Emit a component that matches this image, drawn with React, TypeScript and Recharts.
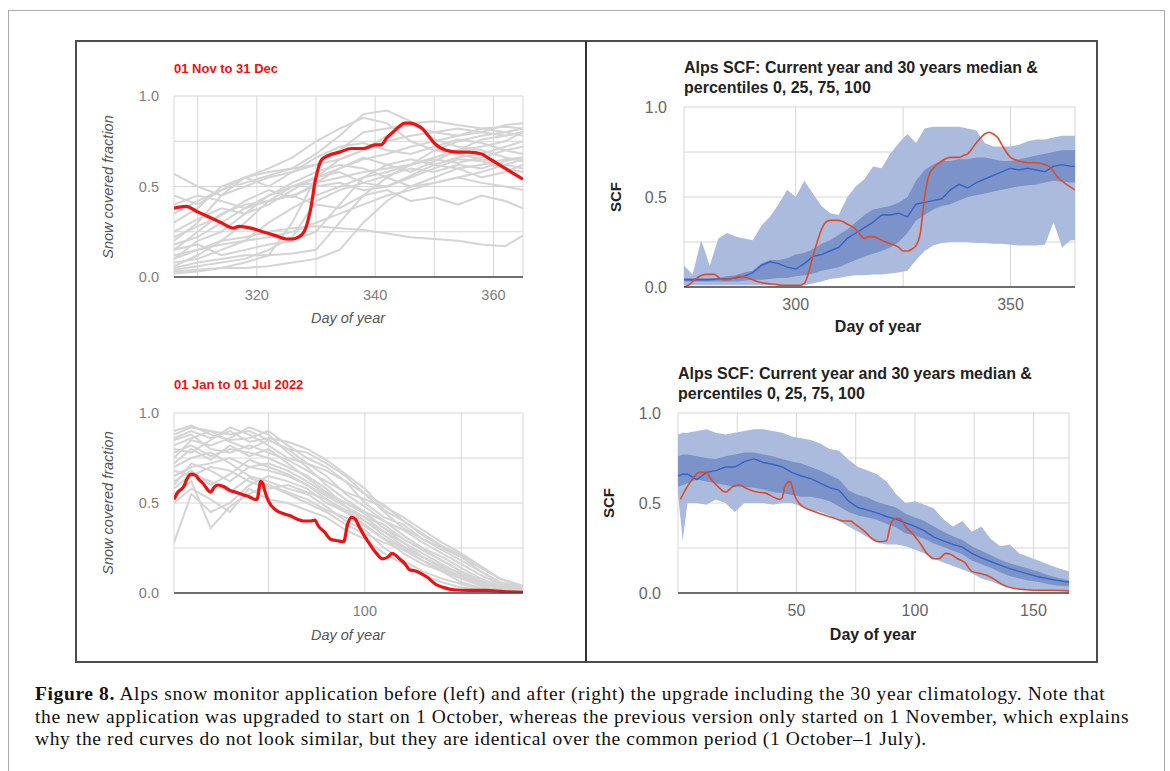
import React from 'react';
import { LineChart, Line, ComposedChart, Area, XAxis, YAxis, CartesianGrid } from 'recharts';

const SANS = 'Arial, "Liberation Sans", sans-serif';
const SERIF = '"Liberation Serif", "DejaVu Serif", serif';

// ---------- left panels (old app): 2022 red line over every past year in grey ----------
const NOV_DEC_2022: [number, number][] = [
  [306, 0.38], [308, 0.39], [310, 0.36], [312, 0.33], [314, 0.3], [316, 0.27], [317, 0.28], [319, 0.27],
  [321, 0.25], [323, 0.23], [325, 0.21], [326, 0.21], [327, 0.22], [328, 0.25], [329, 0.36], [330, 0.55],
  [331, 0.65], [332, 0.67], [334, 0.69], [336, 0.71], [338, 0.71], [340, 0.73], [341, 0.73], [342, 0.77],
  [343, 0.8], [344, 0.83], [345, 0.85], [346, 0.85], [347, 0.84], [348, 0.82], [349, 0.78], [350, 0.74],
  [352, 0.7], [354, 0.69], [356, 0.69], [358, 0.68], [359, 0.66], [360, 0.64], [362, 0.6], [364, 0.56], [365, 0.54],
];

const NOV_DEC_GREY_DAYS = [306, 310, 314, 318, 322, 326, 330, 334, 338, 342, 346, 350, 354, 358, 362, 365];
const NOV_DEC_PAST_YEARS = [
  [0.57, 0.5, 0.45, 0.5, 0.55, 0.58, 0.62, 0.7, 0.8, 0.82, 0.84, 0.8, 0.78, 0.8, 0.84, 0.85],
  [0.05, 0.08, 0.1, 0.12, 0.12, 0.13, 0.15, 0.3, 0.45, 0.55, 0.62, 0.66, 0.7, 0.72, 0.75, 0.8],
  [0.1, 0.15, 0.2, 0.22, 0.25, 0.27, 0.28, 0.27, 0.26, 0.24, 0.22, 0.21, 0.2, 0.18, 0.17, 0.23],
  [0.15, 0.25, 0.35, 0.4, 0.42, 0.45, 0.4, 0.38, 0.45, 0.48, 0.42, 0.44, 0.4, 0.45, 0.42, 0.38],
  [0.03, 0.04, 0.05, 0.08, 0.12, 0.3, 0.55, 0.65, 0.7, 0.75, 0.78, 0.8, 0.82, 0.8, 0.78, 0.8],
  [0.2, 0.3, 0.45, 0.55, 0.6, 0.66, 0.75, 0.82, 0.88, 0.85, 0.75, 0.7, 0.68, 0.65, 0.62, 0.6],
  [0.3, 0.38, 0.5, 0.55, 0.58, 0.6, 0.62, 0.65, 0.7, 0.78, 0.85, 0.86, 0.84, 0.82, 0.83, 0.82],
  [0.1, 0.2, 0.25, 0.35, 0.45, 0.5, 0.52, 0.55, 0.58, 0.6, 0.62, 0.65, 0.63, 0.66, 0.7, 0.72],
  [0.02, 0.03, 0.05, 0.05, 0.06, 0.08, 0.1, 0.15, 0.3, 0.42, 0.5, 0.55, 0.6, 0.62, 0.65, 0.66],
  [0.35, 0.42, 0.48, 0.52, 0.56, 0.6, 0.68, 0.78, 0.9, 0.92, 0.86, 0.76, 0.72, 0.7, 0.66, 0.64],
  [0.18, 0.22, 0.3, 0.38, 0.42, 0.45, 0.5, 0.52, 0.48, 0.5, 0.55, 0.6, 0.65, 0.64, 0.6, 0.58],
  [0.08, 0.1, 0.15, 0.2, 0.3, 0.38, 0.45, 0.5, 0.55, 0.58, 0.62, 0.7, 0.75, 0.78, 0.8, 0.82],
  [0.4, 0.45, 0.42, 0.38, 0.45, 0.52, 0.58, 0.62, 0.6, 0.55, 0.5, 0.52, 0.55, 0.52, 0.5, 0.48],
  [0.12, 0.15, 0.18, 0.2, 0.22, 0.25, 0.3, 0.35, 0.4, 0.45, 0.48, 0.52, 0.55, 0.58, 0.62, 0.65],
  [0.06, 0.12, 0.2, 0.3, 0.42, 0.5, 0.55, 0.6, 0.65, 0.68, 0.72, 0.75, 0.78, 0.82, 0.8, 0.78],
  [0.25, 0.32, 0.38, 0.35, 0.4, 0.48, 0.55, 0.58, 0.52, 0.5, 0.56, 0.62, 0.66, 0.68, 0.72, 0.75],
  [0.45, 0.4, 0.48, 0.55, 0.5, 0.58, 0.66, 0.72, 0.74, 0.7, 0.68, 0.72, 0.76, 0.74, 0.7, 0.68],
  [0.15, 0.18, 0.12, 0.15, 0.18, 0.2, 0.25, 0.4, 0.55, 0.62, 0.65, 0.62, 0.6, 0.55, 0.58, 0.62],
  [0.22, 0.28, 0.34, 0.42, 0.48, 0.44, 0.52, 0.6, 0.66, 0.62, 0.58, 0.64, 0.7, 0.76, 0.78, 0.8],
  [0.04, 0.06, 0.08, 0.1, 0.15, 0.22, 0.42, 0.48, 0.52, 0.56, 0.6, 0.58, 0.62, 0.6, 0.64, 0.66],
];

const JAN_JUL_2022: [number, number][] = [
  [1, 0.52], [3, 0.56], [6, 0.59], [8, 0.64], [10, 0.66], [12, 0.655], [14, 0.63], [16, 0.61], [18, 0.58],
  [20, 0.56], [22, 0.59], [24, 0.6], [27, 0.59], [30, 0.57], [33, 0.56], [37, 0.545], [40, 0.535], [43, 0.52],
  [44, 0.52], [46, 0.62], [47, 0.61], [48, 0.57], [50, 0.51], [54, 0.46], [58, 0.44], [61, 0.43], [65, 0.41],
  [68, 0.4], [72, 0.4], [74, 0.405], [76, 0.37], [79, 0.34], [82, 0.3], [86, 0.29], [89, 0.285], [91, 0.38],
  [93, 0.42], [95, 0.41], [97, 0.37], [99, 0.33], [102, 0.28], [106, 0.22], [109, 0.19], [112, 0.2], [114, 0.22],
  [116, 0.21], [118, 0.19], [121, 0.16], [123, 0.13], [127, 0.12], [132, 0.09], [137, 0.046], [141, 0.03],
  [146, 0.018], [154, 0.015], [163, 0.015], [172, 0.008], [182, 0.004],
];

const JAN_JUL_GREY_DAYS = [1, 10, 20, 30, 40, 50, 60, 70, 80, 90, 100, 110, 120, 130, 140, 150, 160, 170, 182];
const JAN_JUL_PAST_YEARS = [
  [0.88, 0.92, 0.9, 0.88, 0.9, 0.85, 0.8, 0.72, 0.65, 0.55, 0.48, 0.4, 0.32, 0.25, 0.2, 0.14, 0.08, 0.04, 0.01],
  [0.28, 0.55, 0.45, 0.5, 0.6, 0.65, 0.62, 0.58, 0.5, 0.45, 0.38, 0.3, 0.22, 0.16, 0.12, 0.08, 0.05, 0.02, 0.0],
  [0.75, 0.85, 0.82, 0.86, 0.92, 0.88, 0.78, 0.7, 0.6, 0.52, 0.45, 0.4, 0.35, 0.28, 0.22, 0.16, 0.1, 0.05, 0.02],
  [0.65, 0.7, 0.72, 0.75, 0.7, 0.68, 0.65, 0.6, 0.52, 0.45, 0.4, 0.32, 0.25, 0.18, 0.12, 0.06, 0.03, 0.01, 0.0],
  [0.85, 0.88, 0.8, 0.78, 0.82, 0.78, 0.74, 0.68, 0.62, 0.56, 0.52, 0.48, 0.42, 0.35, 0.28, 0.22, 0.15, 0.08, 0.03],
  [0.55, 0.62, 0.36, 0.48, 0.55, 0.6, 0.55, 0.5, 0.45, 0.38, 0.33, 0.28, 0.24, 0.18, 0.13, 0.08, 0.04, 0.02, 0.01],
  [0.8, 0.78, 0.85, 0.92, 0.88, 0.82, 0.75, 0.72, 0.68, 0.62, 0.55, 0.49, 0.4, 0.33, 0.26, 0.2, 0.12, 0.06, 0.02],
  [0.7, 0.75, 0.78, 0.72, 0.65, 0.62, 0.58, 0.55, 0.48, 0.4, 0.35, 0.25, 0.18, 0.12, 0.08, 0.05, 0.02, 0.01, 0.0],
  [0.9, 0.93, 0.88, 0.85, 0.86, 0.9, 0.82, 0.75, 0.7, 0.62, 0.5, 0.42, 0.38, 0.3, 0.24, 0.18, 0.12, 0.06, 0.03],
  [0.6, 0.72, 0.68, 0.62, 0.7, 0.72, 0.68, 0.62, 0.55, 0.5, 0.45, 0.36, 0.28, 0.22, 0.16, 0.1, 0.06, 0.03, 0.01],
  [0.78, 0.82, 0.76, 0.8, 0.78, 0.75, 0.7, 0.65, 0.58, 0.48, 0.42, 0.38, 0.3, 0.24, 0.18, 0.12, 0.07, 0.03, 0.01],
  [0.5, 0.58, 0.52, 0.45, 0.58, 0.52, 0.5, 0.46, 0.42, 0.35, 0.3, 0.22, 0.16, 0.1, 0.06, 0.03, 0.02, 0.01, 0.0],
  [0.82, 0.86, 0.9, 0.84, 0.8, 0.85, 0.8, 0.78, 0.72, 0.65, 0.55, 0.45, 0.36, 0.3, 0.25, 0.2, 0.14, 0.08, 0.04],
  [0.68, 0.65, 0.7, 0.68, 0.62, 0.58, 0.6, 0.56, 0.52, 0.46, 0.42, 0.34, 0.28, 0.2, 0.14, 0.09, 0.05, 0.02, 0.01],
  [0.72, 0.8, 0.74, 0.82, 0.76, 0.8, 0.72, 0.64, 0.56, 0.5, 0.44, 0.36, 0.3, 0.24, 0.18, 0.12, 0.07, 0.04, 0.02],
  [0.62, 0.68, 0.6, 0.66, 0.74, 0.7, 0.66, 0.6, 0.54, 0.48, 0.4, 0.34, 0.26, 0.2, 0.14, 0.09, 0.05, 0.02, 0.01],
  [0.86, 0.9, 0.86, 0.9, 0.84, 0.86, 0.84, 0.8, 0.74, 0.66, 0.58, 0.46, 0.4, 0.32, 0.26, 0.21, 0.15, 0.08, 0.03],
  [0.58, 0.66, 0.62, 0.56, 0.64, 0.6, 0.56, 0.52, 0.46, 0.42, 0.37, 0.3, 0.25, 0.2, 0.15, 0.11, 0.06, 0.03, 0.01],
];

// ---------- right panels (new app): 2022 against 30 year median and percentile bands ----------
const OCT_DEC_DAYS = [
  274, 276, 278, 280, 282, 284, 286, 288, 290, 292, 294, 296, 298, 300, 302, 304, 306, 308, 310, 312, 314, 316, 318, 320,
  322, 324, 326, 328, 330, 332, 334, 336, 338, 340, 342, 344, 346, 348, 350, 352, 354, 356, 358, 360, 362, 364, 365,
];
const OCT_DEC_P0 = [
  0.01, 0.01, 0.01, 0.01, 0.01, 0.01, 0.01, 0.01, 0.01, 0.01, 0.01, 0.01, 0.01, 0.01, 0.01, 0.02, 0.03, 0.045, 0.05, 0.06,
  0.065, 0.065, 0.07, 0.07, 0.075, 0.08, 0.09, 0.15, 0.2, 0.23, 0.245, 0.25, 0.25, 0.25, 0.245, 0.245, 0.24, 0.24, 0.235,
  0.23, 0.23, 0.23, 0.235, 0.36, 0.22, 0.26, 0.26,
];
const OCT_DEC_P25 = [
  0.03, 0.03, 0.03, 0.03, 0.03, 0.03, 0.03, 0.035, 0.04, 0.04, 0.045, 0.05, 0.05, 0.06, 0.065, 0.075, 0.09, 0.1, 0.11, 0.13,
  0.15, 0.17, 0.185, 0.2, 0.22, 0.25, 0.3, 0.37, 0.4, 0.43, 0.45, 0.46, 0.48, 0.5, 0.51, 0.52, 0.53, 0.54, 0.55, 0.56,
  0.565, 0.57, 0.58, 0.59, 0.585, 0.58, 0.58,
];
const OCT_DEC_MEDIAN = [
  0.04, 0.04, 0.04, 0.04, 0.045, 0.045, 0.05, 0.06, 0.08, 0.12, 0.14, 0.13, 0.11, 0.1, 0.13, 0.17, 0.18, 0.2, 0.22, 0.27,
  0.3, 0.33, 0.36, 0.4, 0.4, 0.41, 0.39, 0.46, 0.47, 0.48, 0.49, 0.54, 0.57, 0.55, 0.58, 0.6, 0.62, 0.64, 0.66, 0.65, 0.66,
  0.65, 0.64, 0.67, 0.68, 0.67, 0.67,
];
const OCT_DEC_P75 = [
  0.05, 0.05, 0.05, 0.05, 0.05, 0.06, 0.065, 0.08, 0.09, 0.13, 0.15, 0.15, 0.16, 0.18, 0.19, 0.21, 0.24, 0.26, 0.29, 0.32,
  0.36, 0.4, 0.43, 0.44, 0.45, 0.47, 0.5, 0.59, 0.65, 0.68, 0.7, 0.7, 0.71, 0.71, 0.72, 0.72, 0.71, 0.7, 0.7, 0.71, 0.72,
  0.73, 0.74, 0.75, 0.76, 0.76, 0.76,
];
const OCT_DEC_P100 = [
  0.12, 0.07, 0.26, 0.12, 0.27, 0.3, 0.28, 0.27, 0.26, 0.34, 0.39, 0.46, 0.54, 0.5, 0.59, 0.52, 0.45, 0.41, 0.4, 0.5, 0.56,
  0.6, 0.67, 0.66, 0.74, 0.8, 0.85, 0.8, 0.88, 0.89, 0.89, 0.89, 0.89, 0.88, 0.87, 0.8, 0.78, 0.78, 0.78, 0.79, 0.81, 0.82,
  0.82, 0.83, 0.84, 0.84, 0.84,
];
const OCT_DEC_2022: [number, number][] = [
  [274, 0.0], [275, 0.01], [277, 0.05], [279, 0.07], [281, 0.07], [283, 0.04], [285, 0.045], [287, 0.06], [289, 0.05],
  [291, 0.03], [293, 0.02], [295, 0.015], [297, 0.01], [299, 0.01], [301, 0.01], [302, 0.02], [303, 0.08], [304, 0.17],
  [305, 0.25], [306, 0.32], [307, 0.36], [308, 0.37], [310, 0.37], [312, 0.35], [314, 0.32], [315, 0.29], [316, 0.27],
  [317, 0.28], [318, 0.28], [320, 0.26], [322, 0.24], [324, 0.22], [325, 0.2], [326, 0.2], [327, 0.21], [328, 0.23],
  [329, 0.3], [330, 0.5], [331, 0.62], [332, 0.66], [334, 0.7], [336, 0.72], [338, 0.72], [339, 0.73], [340, 0.74],
  [342, 0.8], [344, 0.85], [345, 0.86], [346, 0.85], [347, 0.83], [348, 0.79], [349, 0.75], [350, 0.72], [352, 0.7],
  [354, 0.69], [356, 0.69], [358, 0.68], [359, 0.67], [361, 0.61], [363, 0.57], [365, 0.54],
];

const JAN_JUN_DAYS = [
  0, 2, 4, 8, 12, 16, 20, 24, 28, 32, 36, 40, 44, 48, 52, 56, 60, 64, 68, 72, 76, 80, 84, 88, 92, 96, 100, 104, 108, 112,
  116, 120, 124, 128, 132, 136, 140, 144, 148, 152, 156, 160, 165,
];
const JAN_JUN_P0 = [
  0.55, 0.29, 0.5, 0.5, 0.49, 0.52, 0.5, 0.45, 0.5, 0.5, 0.5, 0.49, 0.5, 0.5, 0.48, 0.46, 0.45, 0.43, 0.4, 0.37, 0.34,
  0.31, 0.28, 0.27, 0.27, 0.26, 0.24, 0.22, 0.19, 0.17, 0.15, 0.13, 0.11, 0.08, 0.065, 0.045, 0.035, 0.02, 0.015, 0.01,
  0.01, 0.01, 0.01,
];
const JAN_JUN_P25 = [
  0.59, 0.6, 0.61, 0.63, 0.62, 0.61, 0.6, 0.59, 0.59, 0.585, 0.575, 0.56, 0.555, 0.545, 0.535, 0.535, 0.525, 0.51, 0.48,
  0.45, 0.43, 0.42, 0.405, 0.385, 0.365, 0.33, 0.32, 0.3, 0.275, 0.255, 0.235, 0.215, 0.18, 0.16, 0.14, 0.115, 0.095,
  0.08, 0.07, 0.062, 0.05, 0.042, 0.037,
];
const JAN_JUN_MEDIAN = [
  0.65, 0.66, 0.66, 0.63, 0.67, 0.68, 0.7, 0.7, 0.73, 0.745, 0.725, 0.715, 0.7, 0.67, 0.65, 0.635, 0.61, 0.585, 0.57,
  0.51, 0.475, 0.46, 0.445, 0.425, 0.41, 0.39, 0.37, 0.345, 0.31, 0.29, 0.27, 0.255, 0.22, 0.195, 0.175, 0.155, 0.135,
  0.12, 0.105, 0.09, 0.08, 0.07, 0.06,
];
const JAN_JUN_P75 = [
  0.76, 0.77, 0.77, 0.76, 0.75, 0.745, 0.76, 0.77, 0.78, 0.78, 0.77, 0.76, 0.745, 0.73, 0.72, 0.7, 0.68, 0.655, 0.63,
  0.57, 0.545, 0.53, 0.505, 0.49, 0.475, 0.44, 0.42, 0.4, 0.37, 0.34, 0.315, 0.295, 0.26, 0.235, 0.21, 0.185, 0.165, 0.15,
  0.135, 0.12, 0.1, 0.085, 0.07,
];
const JAN_JUN_P100 = [
  0.88, 0.89, 0.89, 0.9, 0.91, 0.89, 0.88, 0.89, 0.9, 0.91, 0.91, 0.9, 0.89, 0.87, 0.86, 0.85, 0.83, 0.8, 0.79, 0.74, 0.7,
  0.68, 0.66, 0.62, 0.55, 0.5, 0.51, 0.49, 0.47, 0.41, 0.37, 0.4, 0.34, 0.37, 0.3, 0.26, 0.27, 0.22, 0.2, 0.18, 0.16,
  0.14, 0.12,
];
const JAN_JUN_2022: [number, number][] = [
  [1, 0.52], [3, 0.57], [6, 0.63], [9, 0.67], [12, 0.67], [14, 0.63], [17, 0.59], [20, 0.56], [23, 0.59], [26, 0.6],
  [29, 0.58], [31, 0.57], [34, 0.56], [37, 0.555], [40, 0.535], [43, 0.52], [44, 0.53], [45, 0.59], [46, 0.61],
  [47, 0.62], [48, 0.6], [49, 0.55], [51, 0.5], [54, 0.47], [57, 0.455], [60, 0.44], [65, 0.42], [70, 0.4], [73, 0.4],
  [74, 0.39], [76, 0.37], [79, 0.34], [82, 0.3], [85, 0.285], [88, 0.29], [89, 0.34], [90, 0.39], [92, 0.415],
  [94, 0.41], [96, 0.37], [99, 0.33], [102, 0.28], [105, 0.22], [108, 0.19], [110, 0.19], [113, 0.22], [115, 0.215],
  [118, 0.19], [121, 0.17], [124, 0.12], [127, 0.11], [130, 0.1], [133, 0.08], [137, 0.046], [141, 0.028],
  [147, 0.018], [153, 0.015], [158, 0.015], [165, 0.012],
];

const Y_TICKS = [0, 0.25, 0.5, 0.75, 1];
const Y_LABELS = [0, 0.5, 1];

const pairRows = (pairs: [number, number][]) => pairs.map(([day, v]) => ({ day, v }));
const seriesRows = (days: number[], values: number[]) => days.map((day, i) => ({ day, v: values[i] }));
const bandRows = (days: number[], p0: number[], p25: number[], med: number[], p75: number[], p100: number[]) =>
  days.map((day, i) => ({ day, outer: [p0[i], p100[i]], inner: [p25[i], p75[i]], median: med[i] }));

const yFormat = (t: number) => (Y_LABELS.includes(t) ? t.toFixed(1) : '');

type Margin = { top: number; right: number; bottom: number; left: number };

function PastYearsChart(props: {
  width: number; height: number; margin: Margin; domain: [number, number]; xTicks: number[]; xLabels: number[];
  days: number[]; pastYears: number[][]; current: [number, number][];
}) {
  const { width, height, margin, domain, xTicks, xLabels, days, pastYears, current } = props;
  const tick = { fill: '#7d7d7d', fontSize: 14.5, fontFamily: SANS };
  return (
    <LineChart width={width} height={height} margin={margin}>
      <CartesianGrid stroke="#d6d6d6" />
      <XAxis type="number" dataKey="day" domain={domain} ticks={xTicks} interval={0} allowDataOverflow
        tickFormatter={(t: number) => (xLabels.includes(t) ? String(t) : '')} tick={tick}
        axisLine={{ stroke: '#444', strokeWidth: 1.5 }} tickLine={false} tickSize={0} tickMargin={13} height={30} />
      <YAxis type="number" domain={[0, 1]} ticks={Y_TICKS} interval={0} allowDataOverflow tickFormatter={yFormat}
        tick={tick} axisLine={false} tickLine={false} tickSize={0} tickMargin={15} width={40} />
      {pastYears.map((vals, i) => (
        <Line key={i} data={seriesRows(days, vals)} dataKey="v" type="linear" stroke="#d4d4d4" strokeWidth={2}
          dot={false} activeDot={false} isAnimationActive={false} />
      ))}
      <Line data={pairRows(current)} dataKey="v" type="monotone" stroke="#ee1111" strokeWidth={3.2}
        dot={false} activeDot={false} isAnimationActive={false} />
    </LineChart>
  );
}

function ClimatologyChart(props: {
  width: number; height: number; margin: Margin; domain: [number, number]; xTicks: number[]; xLabels: number[];
  rows: ReturnType<typeof bandRows>; current: [number, number][];
}) {
  const { width, height, margin, domain, xTicks, xLabels, rows, current } = props;
  const tick = { fill: '#666', fontSize: 16, fontFamily: SANS };
  return (
    <ComposedChart width={width} height={height} margin={margin} data={rows}>
      <CartesianGrid stroke="#d6d6d6" />
      <XAxis type="number" dataKey="day" domain={domain} ticks={xTicks} interval={0} allowDataOverflow
        tickFormatter={(t: number) => (xLabels.includes(t) ? String(t) : '')} tick={tick}
        axisLine={{ stroke: '#444', strokeWidth: 1.5 }} tickLine={false} tickSize={0} tickMargin={12} height={30} />
      <YAxis type="number" domain={[0, 1]} ticks={Y_TICKS} interval={0} allowDataOverflow tickFormatter={yFormat}
        tick={tick} axisLine={false} tickLine={false} tickSize={0} tickMargin={17} width={40} />
      <Area dataKey="outer" type="linear" stroke="none" fill="#aabbdd" fillOpacity={1} activeDot={false}
        isAnimationActive={false} />
      <Area dataKey="inner" type="linear" stroke="none" fill="#7c93c9" fillOpacity={1} activeDot={false}
        isAnimationActive={false} />
      <Line dataKey="median" type="linear" stroke="#3563c9" strokeWidth={1.4} dot={false} activeDot={false}
        isAnimationActive={false} />
      <Line data={pairRows(current)} dataKey="v" type="monotone" stroke="#dd4b2e" strokeWidth={1.6} dot={false}
        activeDot={false} isAnimationActive={false} />
    </ComposedChart>
  );
}

const abs = (left: number, top: number): React.CSSProperties => ({ position: 'absolute', left, top, whiteSpace: 'nowrap' });

function VLabel({ cx, cy, text, style }: { cx: number; cy: number; text: string; style: React.CSSProperties }) {
  return (
    <div style={{ ...abs(cx, cy), transform: 'translate(-50%, -50%) rotate(-90deg)', lineHeight: 1, ...style }}>{text}</div>
  );
}

function HLabel({ cx, cy, text, style }: { cx: number; cy: number; text: string; style: React.CSSProperties }) {
  return <div style={{ ...abs(cx, cy), transform: 'translate(-50%, -50%)', lineHeight: 1, ...style }}>{text}</div>;
}

const oldAxisStyle: React.CSSProperties = { fontFamily: SANS, fontSize: 14.5, fontStyle: 'italic', color: '#555' };
const newAxisStyle: React.CSSProperties = { fontFamily: SANS, fontSize: 16, fontWeight: 'bold', color: '#222' };
const redTitle: React.CSSProperties = { fontFamily: SANS, fontSize: 13, fontWeight: 'bold', color: '#ee1111', lineHeight: '13px' };
const blackTitle: React.CSSProperties = { fontFamily: SANS, fontSize: 16, fontWeight: 'bold', color: '#222', lineHeight: '20px' };

export default function App() {
  const autumn = bandRows(OCT_DEC_DAYS, OCT_DEC_P0, OCT_DEC_P25, OCT_DEC_MEDIAN, OCT_DEC_P75, OCT_DEC_P100);
  const spring = bandRows(JAN_JUN_DAYS, JAN_JUN_P0, JAN_JUN_P25, JAN_JUN_MEDIAN, JAN_JUN_P75, JAN_JUN_P100);
  const caption: React.CSSProperties = {
    fontFamily: SERIF, fontSize: 19.5, letterSpacing: 0.62, color: '#111', lineHeight: '22.5px',
  };

  return (
    <div style={{ position: 'absolute', left: 0, top: 0, width: 1170, height: 771, overflow: 'hidden', background: '#fff' }}>
      <div style={{ position: 'absolute', left: 8, top: 10, width: 1157, height: 761, boxSizing: 'border-box',
        borderTop: '1px solid #aaa', borderLeft: '1px solid #aaa', borderRight: '1px solid #aaa' }} />
      <div style={{ position: 'absolute', left: 75, top: 40, width: 1023, height: 623, boxSizing: 'border-box',
        border: '2px solid #4d4d4d' }} />
      <div style={{ position: 'absolute', left: 585, top: 41, width: 2, height: 621, background: '#333' }} />

      <div style={abs(75, 40)}>
        <PastYearsChart width={510} height={300} margin={{ top: 56, right: 62, bottom: 33, left: 59 }}
          domain={[306, 365]} xTicks={[310, 320, 330, 340, 350, 360]} xLabels={[320, 340, 360]}
          days={NOV_DEC_GREY_DAYS} pastYears={NOV_DEC_PAST_YEARS} current={NOV_DEC_2022} />
      </div>
      <div style={abs(75, 340)}>
        <PastYearsChart width={510} height={320} margin={{ top: 73, right: 62, bottom: 37, left: 59 }}
          domain={[1, 182]} xTicks={[50, 100, 150]} xLabels={[100]}
          days={JAN_JUL_GREY_DAYS} pastYears={JAN_JUL_PAST_YEARS} current={JAN_JUL_2022} />
      </div>
      <div style={abs(587, 40)}>
        <ClimatologyChart width={508} height={300} margin={{ top: 67, right: 20, bottom: 23, left: 57 }}
          domain={[274, 365]} xTicks={[300, 325, 350]} xLabels={[300, 350]} rows={autumn} current={OCT_DEC_2022} />
      </div>
      <div style={abs(587, 340)}>
        <ClimatologyChart width={508} height={320} margin={{ top: 73, right: 26, bottom: 37, left: 51 }}
          domain={[0, 165]} xTicks={[25, 50, 75, 100, 125, 150]} xLabels={[50, 100, 150]} rows={spring}
          current={JAN_JUN_2022} />
      </div>

      <div style={{ ...abs(174, 62), ...redTitle }}>01 Nov to 31 Dec</div>
      <div style={{ ...abs(174, 378), ...redTitle }}>01 Jan to 01 Jul 2022</div>
      <VLabel cx={108} cy={187} text="Snow covered fraction" style={oldAxisStyle} />
      <VLabel cx={108} cy={503} text="Snow covered fraction" style={oldAxisStyle} />
      <HLabel cx={348} cy={318} text="Day of year" style={oldAxisStyle} />
      <HLabel cx={348} cy={635} text="Day of year" style={oldAxisStyle} />

      <div style={{ ...abs(684, 58), ...blackTitle }}>
        Alps SCF: Current year and 30 years median &amp;<br />percentiles 0, 25, 75, 100
      </div>
      <div style={{ ...abs(678, 364), ...blackTitle }}>
        Alps SCF: Current year and 30 years median &amp;<br />percentiles 0, 25, 75, 100
      </div>
      <VLabel cx={615} cy={197} text="SCF" style={{ ...newAxisStyle, fontSize: 15 }} />
      <VLabel cx={608} cy={503} text="SCF" style={{ ...newAxisStyle, fontSize: 15 }} />
      <HLabel cx={878} cy={327} text="Day of year" style={newAxisStyle} />
      <HLabel cx={873} cy={635} text="Day of year" style={newAxisStyle} />

      <div style={{ ...abs(35, 683), ...caption }}>
        <div><b>Figure 8.</b> Alps snow monitor application before (left) and after (right) the upgrade including the 30 year climatology. Note that</div>
        <div>the new application was upgraded to start on 1 October, whereas the previous version only started on 1 November, which explains</div>
        <div>why the red curves do not look similar, but they are identical over the common period (1 October–1 July).</div>
      </div>
    </div>
  );
}
